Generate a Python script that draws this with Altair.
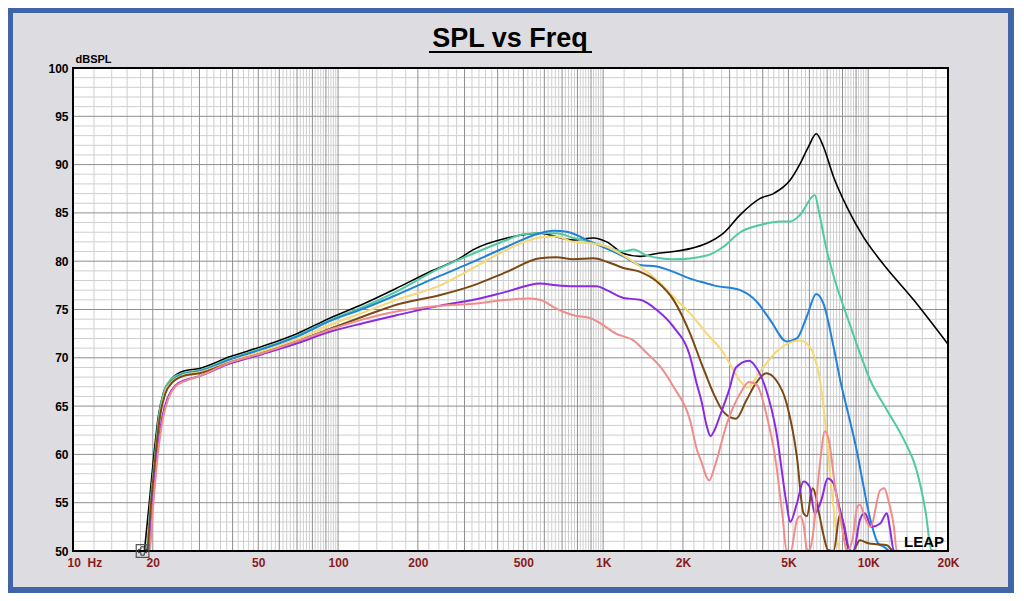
import altair as alt
import pandas as pd

# ---------------- data ----------------
black_f = [18.6, 19.4, 20.2, 21.0, 22.0, 23.5, 26, 30, 39, 52, 70, 93, 125, 166, 222, 288, 324, 433, 578, 631, 773, 919, 1032, 1193, 1379, 1594, 1842, 2129, 2461, 2844, 3288, 3913, 4393, 5078, 5537, 5954, 6366, 6779, 7396, 8314, 9598, 11100, 14830, 20000]
black_db = [50, 55, 60, 64, 66.5, 67.8, 68.6, 68.9, 70.1, 71.2, 72.5, 74.1, 75.6, 77.2, 78.9, 80.3, 81.2, 82.4, 82.9, 82.7, 82.2, 82.4, 82.0, 80.8, 80.5, 80.8, 81.0, 81.3, 81.85, 82.9, 84.8, 86.5, 87.0, 88.4, 90.1, 91.85, 93.2, 91.85, 88.75, 85.6, 82.5, 80.1, 76.0, 71.4]

teal_f = [10, 18.9, 19.6, 20.4, 21.2, 22.2, 23.5, 26, 30, 39, 52, 70, 93, 125, 166, 243, 324, 433, 500, 578, 666, 773, 897, 1032, 1193, 1300, 1460, 1842, 2461, 2844, 3288, 3913, 4707, 5078, 5537, 6290, 6500, 6915, 7530, 8314, 9000, 10170, 11760, 13640, 15210, 16500, 17310, 18000]
teal_db = [45, 50, 55, 60, 64.4, 66.7, 67.8, 68.4, 68.7, 69.9, 71.0, 72.3, 73.9, 75.3, 76.85, 79.3, 80.8, 82.2, 82.8, 82.9, 82.9, 82.4, 82.0, 81.5, 81.0, 81.2, 80.6, 80.2, 80.6, 81.5, 83.0, 83.75, 84.1, 84.1, 84.8, 86.85, 85.3, 81.6, 77.8, 74.3, 71.6, 67.7, 64.6, 61.5, 58.4, 53.9, 50.1, 46]

blue_f = [10, 19.0, 19.7, 20.5, 21.3, 22.3, 23.6, 26, 30, 39, 52, 70, 93, 125, 166, 243, 324, 433, 578, 650, 730, 897, 1032, 1193, 1379, 1594, 1842, 2129, 2461, 2611, 3288, 3800, 4270, 4921, 5380, 5860, 6366, 6779, 7400, 7840, 8400, 9100, 9600, 10200, 10900, 11500, 12000]
blue_db = [45, 50, 55, 60, 64.2, 66.5, 67.6, 68.3, 68.6, 69.8, 70.9, 72.2, 73.8, 75.1, 76.5, 78.5, 79.95, 81.5, 82.9, 83.15, 83.05, 82.0, 81.3, 80.5, 79.6, 79.45, 78.9, 78.2, 77.7, 77.5, 77.0, 75.8, 73.9, 71.7, 72.0, 74.25, 76.6, 75.6, 71.15, 67.7, 64.25, 60.1, 56.7, 53.2, 50.8, 50.4, 47]

yellow_f = [10, 19.0, 19.7, 20.5, 21.3, 22.3, 23.6, 26, 30, 39, 52, 70, 93, 125, 166, 243, 324, 433, 578, 666, 773, 897, 1032, 1193, 1379, 1594, 1842, 2129, 2461, 2844, 3015, 3288, 3500, 3913, 4490, 5230, 5537, 6100, 6400, 6580, 6800, 7000, 7200, 7400, 7600, 7800]
yellow_db = [45, 50, 55, 60, 64.2, 66.5, 67.5, 68.2, 68.5, 69.6, 70.7, 71.9, 73.4, 74.7, 76.0, 77.5, 79.3, 81.2, 82.45, 82.55, 82.0, 81.85, 81.5, 80.6, 79.45, 78.05, 76.3, 74.6, 72.5, 70.5, 69.3, 67.6, 66.9, 68.6, 70.6, 71.7, 71.8, 70.9, 69.2, 67.7, 64.5, 61.5, 57.5, 54.5, 51.5, 48]

brown_f = [10, 19.0, 19.7, 20.5, 21.3, 22.3, 23.6, 26, 30, 39, 52, 70, 93, 125, 166, 243, 324, 433, 578, 666, 773, 919, 1032, 1193, 1379, 1594, 1842, 2129, 2350, 2461, 2610, 2844, 3170, 3470, 3800, 4120, 4490, 4920, 5380, 5700, 5870, 6170, 6580, 6800, 7050, 7400, 7840, 8100, 8450, 8750, 9300, 10000, 10800, 11760, 12300, 12700]
brown_db = [45, 50, 55, 60, 64.0, 66.3, 67.4, 68.1, 68.4, 69.5, 70.5, 71.7, 73.0, 74.3, 75.5, 76.5, 77.5, 78.9, 80.3, 80.4, 80.2, 80.3, 79.95, 79.3, 78.9, 77.9, 76.0, 72.5, 69.4, 68.0, 66.3, 64.4, 63.7, 65.6, 67.5, 68.4, 67.7, 65.3, 59.8, 53.9, 53.6, 56.5, 53.4, 51.5, 50.1, 48.5, 53.9, 52.5, 50.1, 48.5, 51.1, 50.8, 50.7, 50.6, 50.1, 48]

purple_f = [10, 19.3, 20.0, 20.8, 21.7, 22.8, 24.5, 26, 30, 39, 52, 70, 93, 125, 166, 243, 324, 433, 578, 666, 773, 946, 1032, 1193, 1379, 1594, 1842, 2129, 2260, 2350, 2461, 2540, 2640, 2750, 2990, 3170, 3550, 3800, 4120, 4490, 4920, 5078, 5380, 5700, 6000, 6290, 6660, 7030, 7400, 7720, 8130, 8500, 8800, 9300, 9700, 10300, 11100, 11760, 12100, 12500, 12800]
purple_db = [45, 50, 55, 60, 63.8, 65.9, 67.2, 67.6, 68.1, 69.4, 70.4, 71.5, 72.7, 73.6, 74.4, 75.4, 76.0, 76.85, 77.7, 77.5, 77.4, 77.4, 77.0, 76.2, 76.0, 74.95, 73.2, 70.1, 67.2, 65.5, 62.9, 61.9, 62.6, 63.9, 66.7, 69.0, 69.7, 68.9, 66.7, 62.5, 54.9, 53.0, 54.9, 57.2, 56.7, 53.9, 55.3, 57.5, 57.0, 54.9, 52.5, 50.1, 49.5, 53.2, 53.9, 52.5, 52.85, 53.9, 52.2, 49.8, 47]

pink_f = [10, 19.4, 20.1, 20.9, 21.8, 22.9, 24.5, 26, 30, 39, 52, 70, 93, 125, 166, 243, 324, 433, 520, 578, 666, 773, 897, 973, 1118, 1300, 1460, 1640, 1842, 2129, 2257, 2350, 2461, 2510, 2640, 2930, 3288, 3550, 3800, 4120, 4490, 4750, 4920, 5100, 5380, 5537, 5700, 5870, 6000, 6170, 6580, 6860, 7100, 7530, 7840, 8130, 8300, 8700, 9100, 9300, 9800, 10200, 11100, 11500, 11900, 12500, 12800, 13100]
pink_db = [45, 50, 55, 60, 63.6, 65.8, 67.1, 67.5, 68.1, 69.5, 70.5, 71.7, 72.9, 74.0, 74.8, 75.4, 75.6, 76.0, 76.15, 76.0, 75.1, 74.4, 74.1, 73.6, 72.5, 71.8, 70.5, 69.1, 67.0, 63.5, 60.5, 59.2, 57.6, 57.3, 58.8, 63.2, 66.3, 67.5, 67.2, 64.25, 59.1, 53.6, 50.1, 48.8, 53.2, 53.6, 52.8, 50.2, 49.5, 51.5, 59.1, 62.4, 61.5, 56.3, 53.6, 51.0, 49.5, 51.0, 54.6, 54.8, 53.2, 52.5, 56.3, 56.5, 55.3, 52.5, 50.1, 48]

series_names = ["black", "teal", "blue", "yellow", "brown", "purple", "pink"]
series_colors = ["#000000", "#4fcaa2", "#2282d8", "#f5d874", "#7a4913", "#8a2be2", "#f08c8c"]
series_data = [(black_f, black_db), (teal_f, teal_db), (blue_f, blue_db), (yellow_f, yellow_db),
               (brown_f, brown_db), (purple_f, purple_db), (pink_f, pink_db)]

# cursor marker sitting on the bottom-left of the curves
cursor_f = [18.3]
cursor_db = [50]

x_tick_values = [10, 20, 50, 100, 200, 500, 1000, 2000, 5000, 10000, 20000]
x_tick_labels = ["10\u00a0\u00a0Hz", "20", "50", "100", "200", "500", "1K", "2K", "5K", "10K", "20K"]
y_tick_values = [50, 55, 60, 65, 70, 75, 80, 85, 90, 95, 100]

title_text = "SPL vs Freq"
y_title = "dBSPL"
logo_text = "LEAP"

# grid positions (LEAP style log grid)
decades = [10, 100, 1000, 10000]
minor_f = [d * k / 10 for d in decades for k in range(10, 100, 2) if k % 10 != 0 and d * k / 10 <= 20000]
major_f = [d * k for d in decades for k in range(2, 10) if d * k < 20000] + [100, 1000, 10000]
minor_db = [v for v in range(51, 100) if v % 5 != 0]
major_db = [v for v in range(55, 100, 5)]

# ---------------- chart ----------------
W, H = 875, 483
xscale = alt.Scale(type="log", domain=[10, 20000], nice=False)
yscale = alt.Scale(domain=[50, 100], nice=False, clamp=True)

label_expr = ""
for v, l in zip(x_tick_values, x_tick_labels):
    label_expr += f"datum.value == {v} ? '{l}' : "
label_expr += "''"

x_axis = alt.Axis(values=x_tick_values, labelExpr=label_expr, grid=False, ticks=False, domain=False,
                  labelColor="#8b1a1a", labelFont="Liberation Sans", labelFontSize=12,
                  labelFontWeight="bold", labelPadding=6, title="", zindex=2,
                  labelAlign={"condition": {"test": "datum.value == 10", "value": "left"}, "value": "center"},
                  labelOffset={"condition": {"test": "datum.value == 10", "value": -6}, "value": 0})
y_axis = alt.Axis(values=y_tick_values, grid=False, ticks=False, domain=False,
                  labelColor="#000000", labelFont="Liberation Sans", labelFontSize=12,
                  labelFontWeight="bold", labelPadding=5, zindex=2,
                  title=y_title, titleAngle=0, titleX=2, titleY=-6, titleAlign="left",
                  titleBaseline="alphabetic", titleFont="Liberation Sans", titleFontSize=11,
                  titleFontWeight="bold", titleColor="#000000")

# long table of all curves
rows = []
for name, (fs, dbs) in zip(series_names, series_data):
    for f, d in zip(fs, dbs):
        rows.append({"f": f, "db": d, "s": name})
curves_df = pd.DataFrame(rows)

one = pd.DataFrame({"a": [0]})

panel = alt.Chart(one).mark_rect(color="#dddce0").encode(
    x=alt.value(-60), x2=alt.value(935), y=alt.value(-55), y2=alt.value(519))
plot_bg = alt.Chart(one).mark_rect(color="#ffffff").encode(
    x=alt.value(0), x2=alt.value(W), y=alt.value(0), y2=alt.value(H))

v_minor = alt.Chart(pd.DataFrame({"f": minor_f})).mark_rule(color="#cfcfcf", strokeWidth=1).encode(
    x=alt.X("f:Q", scale=xscale, axis=x_axis))
v_major = alt.Chart(pd.DataFrame({"f": major_f})).mark_rule(color="#8e8e8e", strokeWidth=1).encode(
    x=alt.X("f:Q", scale=xscale, axis=x_axis))
h_minor = alt.Chart(pd.DataFrame({"db": minor_db})).mark_rule(color="#cfcfcf", strokeWidth=1).encode(
    y=alt.Y("db:Q", scale=yscale, axis=y_axis))
h_major = alt.Chart(pd.DataFrame({"db": major_db})).mark_rule(color="#8e8e8e", strokeWidth=1).encode(
    y=alt.Y("db:Q", scale=yscale, axis=y_axis))

curve_layers = []
for name, color in zip(series_names, series_colors):
    width = 1.6 if name == "black" else 2.0
    curve_layers.append(
        alt.Chart(curves_df).transform_filter(alt.datum.s == name)
        .mark_line(color=color, strokeWidth=width, interpolate="monotone").encode(
            x=alt.X("f:Q", scale=xscale, axis=x_axis),
            y=alt.Y("db:Q", scale=yscale, axis=y_axis),
        )
    )

frame = alt.Chart(one).mark_rect(fillOpacity=0, stroke="#000000", strokeWidth=2).encode(
    x=alt.value(0), x2=alt.value(W), y=alt.value(0), y2=alt.value(H))

cursor_df = pd.DataFrame({"f": cursor_f, "db": cursor_db})
cursor_box = alt.Chart(cursor_df).mark_point(shape="square", size=160, filled=False,
                                             color="#555555", strokeWidth=1.2, opacity=1).encode(
    x=alt.X("f:Q", scale=xscale, axis=x_axis),
    y=alt.Y("db:Q", scale=yscale, axis=y_axis))
cursor_cross = alt.Chart(cursor_df).mark_point(shape="cross", size=70, filled=False,
                                               color="#333333", strokeWidth=1, opacity=1).encode(
    x=alt.X("f:Q", scale=xscale, axis=x_axis),
    y=alt.Y("db:Q", scale=yscale, axis=y_axis))

title = alt.Chart(one).mark_text(text=title_text, font="Liberation Sans", fontSize=27, fontWeight="bold",
                                 align="center", baseline="alphabetic", color="#000000").encode(
    x=alt.value(437), y=alt.value(-21))
underline = alt.Chart(one).mark_rule(color="#000000", strokeWidth=2).encode(
    x=alt.value(356), x2=alt.value(519), y=alt.value(-16))
logo = alt.Chart(one).mark_text(text=logo_text, font="Liberation Sans", fontSize=15, fontWeight="bold",
                                align="right", baseline="alphabetic", color="#000000").encode(
    x=alt.value(W - 4), y=alt.value(H - 4))

chart = alt.layer(
    panel, plot_bg, v_minor, h_minor, v_major, h_major, *curve_layers, frame,
    cursor_box, cursor_cross, title, underline, logo
).properties(
    width=W, height=H, autosize="none",
    padding={"left": 65, "top": 60, "right": 66, "bottom": 42},
    background="#3f65a8",
).configure_view(strokeOpacity=0)

chart.save("out.html", embed_options={"renderer": "svg", "actions": False})
